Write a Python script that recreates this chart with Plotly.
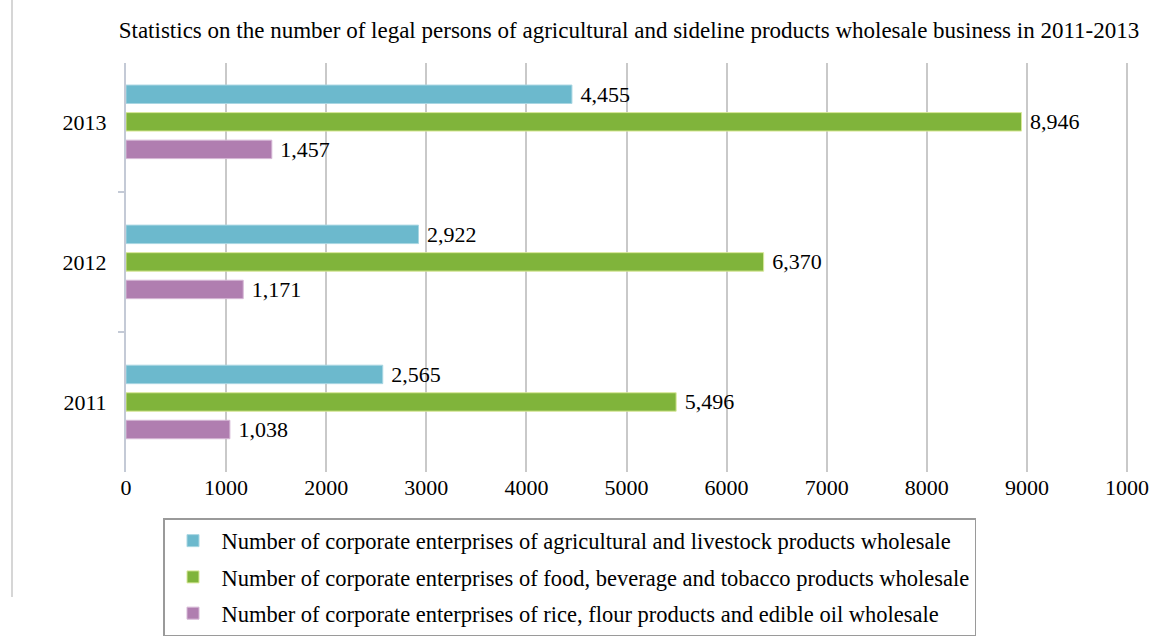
import plotly.graph_objects as go

# Wholesale legal persons by year and business type
years = ["2013", "2012", "2011"]
series_names = [
    "Number of corporate enterprises of agricultural and livestock products wholesale",
    "Number of corporate enterprises of food, beverage and tobacco products wholesale",
    "Number of corporate enterprises of rice, flour products and edible oil wholesale",
]
agri_livestock = [4455, 2922, 2565]
food_bev_tobacco = [8946, 6370, 5496]
rice_flour_oil = [1457, 1171, 1038]

x_tick_values = [0, 1000, 2000, 3000, 4000, 5000, 6000, 7000, 8000, 9000, 10000]
x_tick_labels = ["0", "1000", "2000", "3000", "4000", "5000", "6000", "7000", "8000", "9000", "1000"]

colors = ["#6cb9cd", "#80b43b", "#b07eb0"]
outlines = ["#a9d6e2", "#d9e89a", "#d6b8d6"]
serif = "Liberation Serif, Times New Roman, serif"

fig = go.Figure()
for i, (name, vals) in enumerate(zip(series_names, [agri_livestock, food_bev_tobacco, rice_flour_oil])):
    fig.add_trace(go.Bar(
        y=years,
        x=vals,
        name=name,
        orientation="h",
        marker=dict(color=colors[i], line=dict(color=outlines[i], width=1)),
        texttemplate=" %{x:,}",
        textposition="outside",
        textangle=0,
        constraintext="none",
        textfont=dict(family=serif, size=22, color="black"),
        cliponaxis=False,
        legendgroup=f"g{i}",
    ))

fig.update_layout(
    width=1155,
    height=639,
    margin=dict(l=126, r=23, t=63, b=167, autoexpand=False),
    paper_bgcolor="white",
    plot_bgcolor="white",
    barmode="group",
    bargap=0.41,
    bargroupgap=0.33,
    font=dict(family=serif, size=22, color="black"),
    title=dict(
        text="Statistics on the number of legal persons of agricultural and sideline products wholesale business in 2011-2013",
        font=dict(family=serif, size=23, color="black"),
        x=629 / 1155, xanchor="center", xref="container",
        y=1 - 30 / 639, yanchor="middle", yref="container",
    ),
    xaxis=dict(
        range=[0, 10050],
        tickvals=x_tick_values,
        ticktext=x_tick_labels,
        tickangle=0,
        showgrid=True,
        gridcolor="#c9c9c9",
        gridwidth=2,
        zeroline=False,
        showline=False,
        ticks="",
        tickfont=dict(family=serif, size=22, color="black"),
    ),
    yaxis=dict(
        categoryorder="array",
        categoryarray=years,
        range=[2.5, -0.42],
        showline=True,
        linecolor="#c4cad6",
        linewidth=2,
        ticks="outside",
        tickson="boundaries",
        ticklen=6,
        tickwidth=2,
        tickcolor="#c4cad6",
        ticklabelstandoff=13,
        tickfont=dict(family=serif, size=22, color="black"),
        showgrid=False,
    ),
    legend=dict(
        xref="container", yref="container",
        x=163 / 1155, y=1 - 518 / 639,
        xanchor="left", yanchor="top",
        bordercolor="#9a9a9a",
        borderwidth=1.5,
        bgcolor="white",
        font=dict(family=serif, size=22.5, color="black"),
        traceorder="grouped",
        tracegroupgap=4,
        itemwidth=47,
    ),
    shapes=[
        dict(type="line", xref="paper", yref="paper",
             x0=-114 / 1006, x1=-114 / 1006, y0=1 + 63 / 409, y1=-(597 - 472) / 409,
             line=dict(color="#d6d6d6", width=2)),
    ],
)

fig.write_html("out.html")
